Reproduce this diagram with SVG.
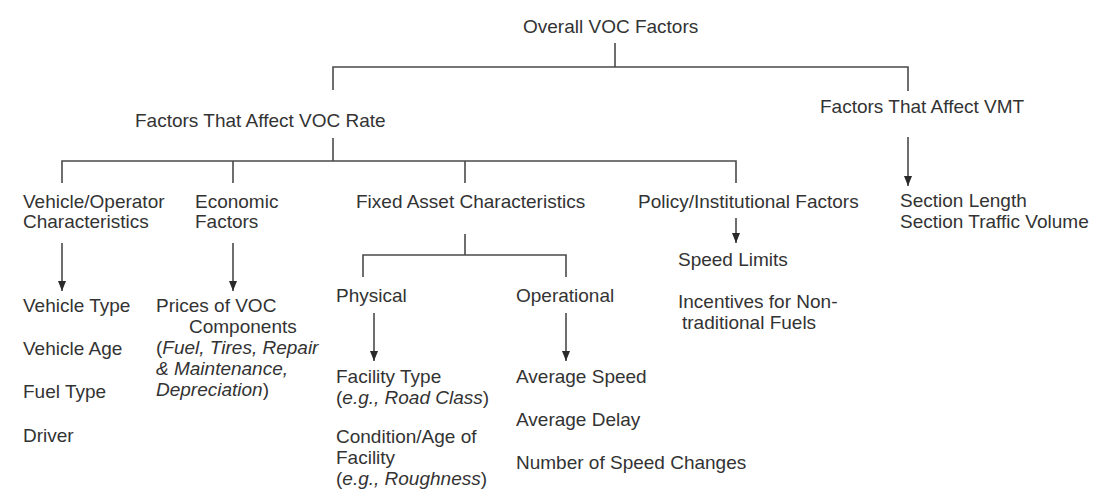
<svg xmlns="http://www.w3.org/2000/svg" width="1101" height="495" viewBox="0 0 1101 495">
<style>
text{font-family:"Liberation Sans",Arial,sans-serif;font-size:19px;fill:#333}
.i{font-style:italic}
.c{fill:none;stroke:#4a4a4a;stroke-width:1.6}
.a{fill:none;stroke:#4a4a4a;stroke-width:1.6;marker-end:url(#ah)}
</style>
<defs>
<marker id="ah" markerUnits="userSpaceOnUse" markerWidth="10" markerHeight="10" viewBox="0 0 10 10" refX="10" refY="5" orient="auto">
<path d="M0,1 L10,5 L0,9 z" fill="#2a2a2a"/>
</marker>
</defs>
<rect width="1101" height="495" fill="#fff"/>
<g id="connectors">
<path class="c" d="M615,43 V67"/>
<path class="c" d="M333,90 V67 H908 V91"/>
<path class="c" d="M333,138 V161"/>
<path class="c" d="M62,183 V161 H736 V183"/>
<path class="c" d="M233,161 V183"/>
<path class="c" d="M465,161 V183"/>
<path class="a" d="M908,137 V186"/>
<path class="a" d="M62,243 V291"/>
<path class="a" d="M233,243 V291"/>
<path class="c" d="M465,234 V255"/>
<path class="c" d="M363,277 V255 H566 V277"/>
<path class="a" d="M374,313 V361"/>
<path class="a" d="M566,313 V361"/>
<path class="a" d="M736,218 V243"/>
</g>
<g id="overall"><text x="523" y="33">Overall VOC Factors</text></g>
<g id="voc-rate"><text x="135" y="127">Factors That Affect VOC Rate</text></g>
<g id="vmt"><text x="820" y="113">Factors That Affect VMT</text></g>
<g id="vehicle-operator"><text x="23" y="208">Vehicle/Operator</text><text x="23" y="228">Characteristics</text></g>
<g id="economic"><text x="195" y="208">Economic</text><text x="195" y="228">Factors</text></g>
<g id="fixed-asset"><text x="356" y="208">Fixed Asset Characteristics</text></g>
<g id="policy"><text x="638" y="208">Policy/Institutional Factors</text></g>
<g id="vmt-items"><text x="900" y="207">Section Length</text><text x="900" y="228">Section Traffic Volume</text></g>
<g id="vehicle-items">
<text x="23" y="312">Vehicle Type</text>
<text x="23" y="355">Vehicle Age</text>
<text x="23" y="398">Fuel Type</text>
<text x="23" y="442">Driver</text>
</g>
<g id="economic-items">
<text x="156" y="312">Prices of VOC</text>
<text x="189" y="333">Components</text>
<text x="156" y="354">(<tspan class="i">Fuel, Tires, Repair</tspan></text>
<text x="156" y="375" class="i">&amp; Maintenance,</text>
<text x="156" y="396"><tspan class="i">Depreciation</tspan>)</text>
</g>
<g id="physical"><text x="336" y="302">Physical</text></g>
<g id="operational"><text x="516" y="302">Operational</text></g>
<g id="physical-items">
<text x="336" y="383">Facility Type</text>
<text x="336" y="404">(<tspan class="i">e.g., Road Class</tspan>)</text>
<text x="336" y="443">Condition/Age of</text>
<text x="336" y="464">Facility</text>
<text x="336" y="485">(<tspan class="i">e.g., Roughness</tspan>)</text>
</g>
<g id="operational-items">
<text x="516" y="383">Average Speed</text>
<text x="516" y="426">Average Delay</text>
<text x="516" y="469">Number of Speed Changes</text>
</g>
<g id="policy-items">
<text x="678" y="266">Speed Limits</text>
<text x="678" y="308">Incentives for Non-</text>
<text x="682" y="329">traditional Fuels</text>
</g>
</svg>
